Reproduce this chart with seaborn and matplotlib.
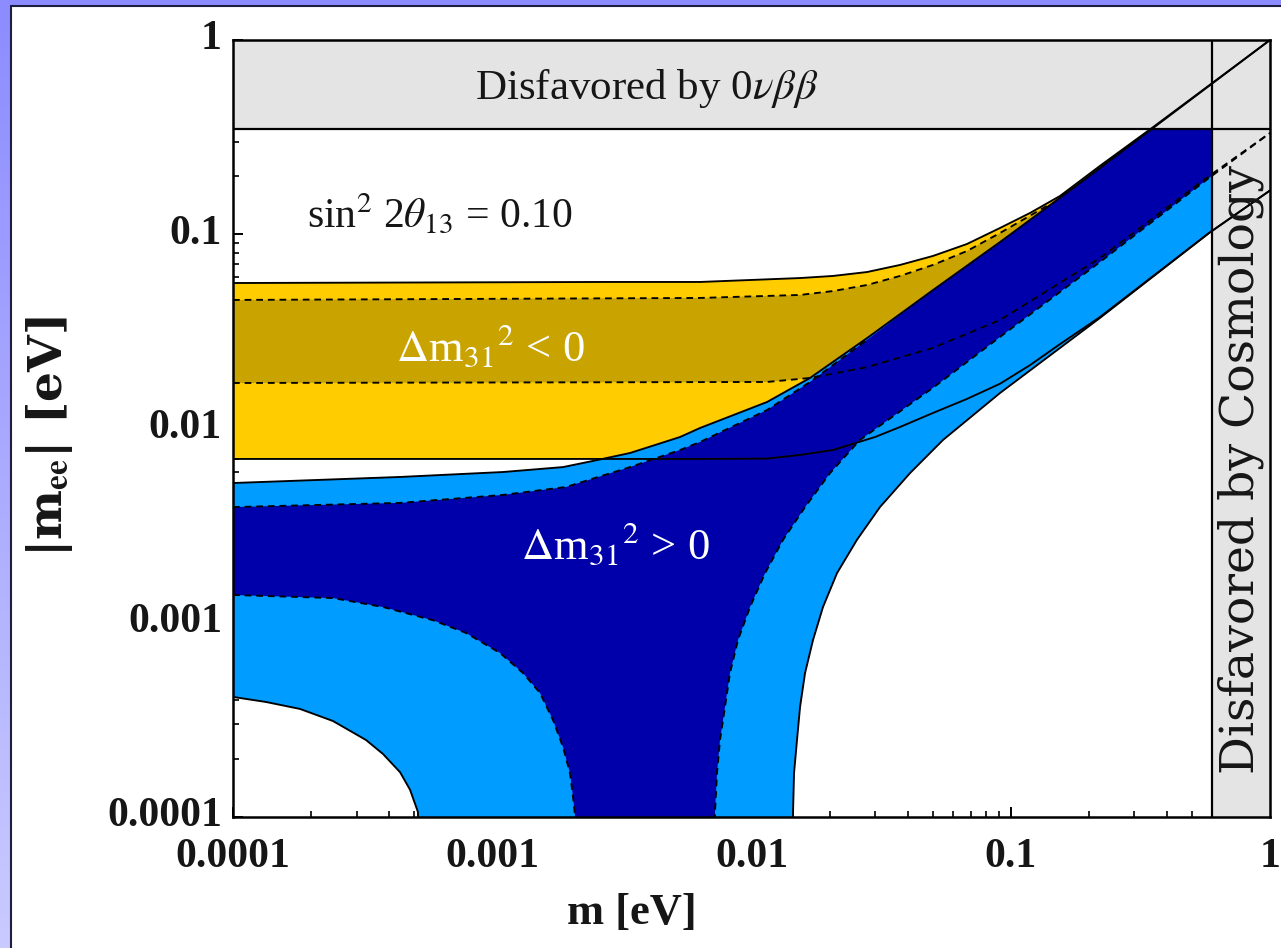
import matplotlib
matplotlib.use("Agg")
import matplotlib.pyplot as plt
import matplotlib.transforms as mtransforms
import seaborn as sns
from matplotlib.patches import Rectangle
from matplotlib.colors import LinearSegmentedColormap
from matplotlib.ticker import FixedLocator, FixedFormatter, NullFormatter
import numpy as np

# ---------------- data ----------------
# axis ticks
tick_values = [1e-4, 1e-3, 1e-2, 1e-1, 1.0]
tick_labels = ["0.0001", "0.001", "0.01", "0.1", "1"]

# limits (bands)
mee_limit = 0.35   # 0νββ limit
m_limit = 0.6      # cosmology limit

# Normal ordering, 3 sigma range (light blue)
nh3_up_m = [1e-4, 4.41e-4, 1.10e-3, 1.875e-3, 2.54e-3, 3.40e-3, 5.30e-3, 6.33e-3,
            0.01148, 0.01681, 0.0279, 0.0501, 0.0909, 0.185, 0.354, 1.0]
nh3_up_mee = [0.00524, 0.00563, 0.00597, 0.00633, 0.00688, 0.00748, 0.00904, 0.01006,
              0.01369, 0.0182, 0.0292, 0.0516, 0.0912, 0.1836, 0.352, 1.0]
nh3_lo_left_m = [1e-4, 1.34e-4, 1.813e-4, 2.43e-4, 3.26e-4, 3.79e-4, 4.41e-4, 4.82e-4,
                 5.17e-4, 5.30e-4]
nh3_lo_left_mee = [4.15e-4, 3.91e-4, 3.60e-4, 3.12e-4, 2.49e-4, 2.11e-4, 1.70e-4, 1.38e-4,
                   1.06e-4, 1e-6]
nh3_lo_right_m = [0.01440, 0.01446, 0.01459, 0.01498, 0.01539, 0.01609, 0.01727, 0.01887,
                  0.02137, 0.0255, 0.0313, 0.0409, 0.0548, 0.0909, 0.221, 0.582, 1.0]
nh3_lo_right_mee = [1e-6, 1.05e-4, 1.68e-4, 2.49e-4, 3.68e-4, 5.51e-4, 8.15e-4, 1.205e-3,
                    1.80e-3, 2.67e-3, 3.94e-3, 5.90e-3, 8.73e-3, 0.01523, 0.0371, 0.1015, 0.168]

# Normal ordering, best-fit range (dark blue)
nhbf_up_m = [1e-4, 4.41e-4, 1.10e-3, 1.926e-3, 3.40e-3, 5.30e-3, 6.33e-3, 0.01148,
             0.01681, 0.0279]
nhbf_up_mee = [0.00394, 0.00414, 0.00455, 0.00500, 0.00633, 0.00775, 0.00852, 0.01245,
               0.01736, 0.0286]
nhbf_lo_left_m = [1e-4, 2.43e-4, 3.79e-4, 5.91e-4, 7.92e-4, 1.071e-3, 1.314e-3, 1.528e-3,
                  1.715e-3, 1.875e-3, 1.995e-3, 2.049e-3, 2.085e-3, 2.10e-3]
nhbf_lo_left_mee = [1.39e-3, 1.34e-3, 1.205e-3, 1.03e-3, 8.86e-4, 6.99e-4, 5.51e-4, 4.35e-4,
                    3.16e-4, 2.29e-4, 1.68e-4, 1.27e-4, 1.02e-4, 1e-6]
nhbf_lo_right_m = [7.20e-3, 7.23e-3, 7.36e-3, 7.56e-3, 7.90e-3, 8.26e-3, 8.87e-3, 9.87e-3,
                   0.01128, 0.01323, 0.01609, 0.0201, 0.0262, 0.0501, 0.0909, 0.221, 0.582, 1.0]
nhbf_lo_right_mee = [1e-6, 1.05e-4, 1.68e-4, 2.49e-4, 3.68e-4, 5.51e-4, 8.15e-4, 1.205e-3,
                     1.80e-3, 2.67e-3, 3.94e-3, 5.90e-3, 8.73e-3, 0.0162, 0.0296, 0.0720, 0.195, 0.332]

# Inverted ordering, 3 sigma range (yellow)
ih3_up_m = [1e-4, 2.60e-3, 6.33e-3, 0.01539, 0.02063, 0.0279, 0.0374, 0.0501, 0.0678,
            0.0909, 0.1187, 0.1549, 0.221, 0.354, 1.0]
ih3_up_mee = [0.0561, 0.0568, 0.0568, 0.0595, 0.0610, 0.0639, 0.0695, 0.0773, 0.0891,
              0.1077, 0.1287, 0.1574, 0.225, 0.356, 1.0]
ih3_lo_m = [1e-4, 6.33e-3, 0.01148, 0.01539, 0.02063, 0.02996, 0.0374, 0.0501, 0.0678,
            0.0909, 0.1187, 0.1549, 0.221, 0.582, 1.0]
ih3_lo_mee = [0.00697, 0.00697, 0.00700, 0.00731, 0.00775, 0.00904, 0.01018, 0.01202,
              0.01420, 0.0170, 0.0212, 0.0272, 0.0375, 0.1015, 0.168]

# Inverted ordering, best-fit range (dark yellow)
ihbf_up_m = [1e-4, 6.33e-3, 0.01539, 0.02063, 0.0279, 0.0374, 0.0501, 0.0678, 0.0909, 0.138]
ihbf_up_mee = [0.0459, 0.0470, 0.0487, 0.0510, 0.0548, 0.0610, 0.0695, 0.0820, 0.1015, 0.140]
ihbf_lo_m = [1e-4, 0.01148, 0.01681, 0.0279, 0.0501, 0.0909, 0.221, 0.582, 1.0]
ihbf_lo_mee = [0.01715, 0.01736, 0.0182, 0.0207, 0.0260, 0.0362, 0.0754, 0.1995, 0.332]

# ---------------- style ----------------
sns.set_theme(style="ticks")
plt.rcParams["font.family"] = ["Liberation Serif", "DejaVu Serif"]
plt.rcParams["mathtext.fontset"] = "stix"

C_YELLOW = "#ffcc00"
C_DKYELLOW = "#c9a300"
C_LTBLUE = "#009cff"
C_DKBLUE = "#0000aa"
C_GRAY = "#e4e4e4"
C_TEXT = "#161616"

W, H = 1281, 948
fig = plt.figure(figsize=(W / 100, H / 100), dpi=100)
fig.patch.set_facecolor("white")

# frame (periwinkle border at the left and top)
frame = fig.add_axes([0, 0, 1, 1], zorder=-10)
frame.set_xlim(0, 1)
frame.set_ylim(0, 1)
frame.axis("off")
grad = np.linspace(0, 1, 256).reshape(-1, 1)
cm = LinearSegmentedColormap.from_list("frame", ["#8c8cff", "#cacaff"])
frame.imshow(grad, extent=[0, 9.5 / W, 0, 1], aspect="auto", cmap=cm, origin="upper")
frame.add_patch(Rectangle((0, 1 - 5.5 / H), 1, 5.5 / H, color="#8c8cff", lw=0))
frame.plot([10.5 / W, 10.5 / W], [0, 1 - 6 / H], color="#1e1e40", lw=1.5)
frame.plot([10.5 / W, 1], [1 - 6 / H, 1 - 6 / H], color="#1e1e40", lw=1.5)

ax = fig.add_axes([233 / W, (H - 817) / H, 1037 / W, 777 / H])
ax.set_xscale("log")
ax.set_yscale("log")
ax.set_xlim(1e-4, 1)
ax.set_ylim(1e-4, 1)
ax.set_facecolor("white")


def poly(xs, ys, color, z):
    ax.fill(xs, ys, color=color, lw=0, zorder=z)


poly(ih3_up_m + ih3_lo_m[::-1], ih3_up_mee + ih3_lo_mee[::-1], C_YELLOW, 1)
ext_x = [m for m in ih3_up_m if m > ihbf_up_m[-1]]
ext_y = [v for m, v in zip(ih3_up_m, ih3_up_mee) if m > ihbf_up_m[-1]]
poly(ihbf_up_m + ext_x + ihbf_lo_m[::-1], ihbf_up_mee + ext_y + ihbf_lo_mee[::-1], C_DKYELLOW, 2)
poly(nh3_up_m + nh3_lo_right_m[::-1] + nh3_lo_left_m[::-1],
     nh3_up_mee + nh3_lo_right_mee[::-1] + nh3_lo_left_mee[::-1], C_LTBLUE, 3)
ext_x = [m for m in nh3_up_m if m > nhbf_up_m[-1]]
ext_y = [v for m, v in zip(nh3_up_m, nh3_up_mee) if m > nhbf_up_m[-1]]
poly(nhbf_up_m + ext_x + nhbf_lo_right_m[::-1] + nhbf_lo_left_m[::-1],
     nhbf_up_mee + ext_y + nhbf_lo_right_mee[::-1] + nhbf_lo_left_mee[::-1], C_DKBLUE, 4)

# disfavoured bands
ax.fill([1e-4, 1, 1, 1e-4], [mee_limit, mee_limit, 1, 1], color=C_GRAY, lw=0, zorder=5)
ax.fill([m_limit, 1, 1, m_limit], [1e-4, 1e-4, mee_limit, mee_limit], color=C_GRAY, lw=0, zorder=5)
ax.axhline(mee_limit, color="black", lw=1.6, zorder=7)
ax.axvline(m_limit, color="black", lw=1.6, zorder=7)

# boundary curves
LW = 1.35
DASH = (0, (3.6, 2.6))
for xs, ys in [(nh3_up_m, nh3_up_mee), (nh3_lo_left_m, nh3_lo_left_mee),
               (nh3_lo_right_m, nh3_lo_right_mee), (ih3_up_m, ih3_up_mee),
               (ih3_lo_m, ih3_lo_mee)]:
    sns.lineplot(x=xs, y=ys, ax=ax, color="black", lw=LW, sort=False,
                 estimator=None, zorder=6)
for xs, ys in [(nhbf_up_m, nhbf_up_mee), (nhbf_lo_left_m, nhbf_lo_left_mee),
               (nhbf_lo_right_m, nhbf_lo_right_mee), (ihbf_up_m, ihbf_up_mee),
               (ihbf_lo_m, ihbf_lo_mee)]:
    sns.lineplot(x=xs, y=ys, ax=ax, color="black", lw=LW, sort=False,
                 estimator=None, zorder=6, linestyle=DASH)

ax.set_xlim(1e-4, 1)
ax.set_ylim(1e-4, 1)

# ticks
minor = [k * 10.0 ** e for e in range(-4, 0) for k in range(2, 10)]
for axis in (ax.xaxis, ax.yaxis):
    axis.set_major_locator(FixedLocator(tick_values))
    axis.set_major_formatter(FixedFormatter(tick_labels))
    axis.set_minor_locator(FixedLocator(minor))
    axis.set_minor_formatter(NullFormatter())
ax.tick_params(which="major", direction="in", length=7, width=1.4, color="black",
               labelsize=30, labelcolor=C_TEXT)
ax.tick_params(axis="x", which="major", pad=15)
ax.tick_params(axis="y", which="major", pad=8)
ax.tick_params(which="minor", direction="in", length=4, width=1.2, color="black")
shift_up = mtransforms.ScaledTranslation(0, 5 / 100, fig.dpi_scale_trans)
for lab in ax.get_xticklabels() + ax.get_yticklabels():
    lab.set_fontweight("bold")
for lab in ax.get_yticklabels():
    lab.set_transform(lab.get_transform() + shift_up)
for s in ax.spines.values():
    s.set_linewidth(1.8)
    s.set_color("black")
    s.set_zorder(10)

ax.set_xlabel("m [eV]", fontsize=32, fontweight="bold", color=C_TEXT)
ax.xaxis.set_label_coords((632 - 233) / 1037, -0.098)
ax.set_ylabel(r"|m$_{\mathbf{ee}}$| [eV]", fontsize=34, fontweight="bold", color=C_TEXT,
              family=["DejaVu Serif"])
ax.yaxis.set_label_coords(-0.152, 0.49)

# annotations
ax.text(0.399, 0.938, r"Disfavored by 0$\nu\beta\beta$", transform=ax.transAxes,
        ha="center", va="center", fontsize=31, color=C_TEXT, zorder=9)
ax.text(0.199, 0.775, r"sin$^{2}$ 2$\theta_{13}$ = 0.10", transform=ax.transAxes,
        ha="center", va="center", fontsize=30, color=C_TEXT, zorder=9)
ax.text(0.248, 0.605, r"$\Delta$m$_{31}$$^{2}$ < 0", transform=ax.transAxes,
        ha="center", va="center", fontsize=32, color="white", zorder=9)
ax.text(0.369, 0.350, r"$\Delta$m$_{31}$$^{2}$ > 0", transform=ax.transAxes,
        ha="center", va="center", fontsize=32, color="white", zorder=9)
ax.text(0.972, 0.447, "Disfavored by Cosmology", transform=ax.transAxes,
        ha="center", va="center", rotation=90, fontsize=34, color=C_TEXT, zorder=9,
        family=["DejaVu Serif"])

fig.savefig("out.png", dpi=100, facecolor=fig.get_facecolor())
